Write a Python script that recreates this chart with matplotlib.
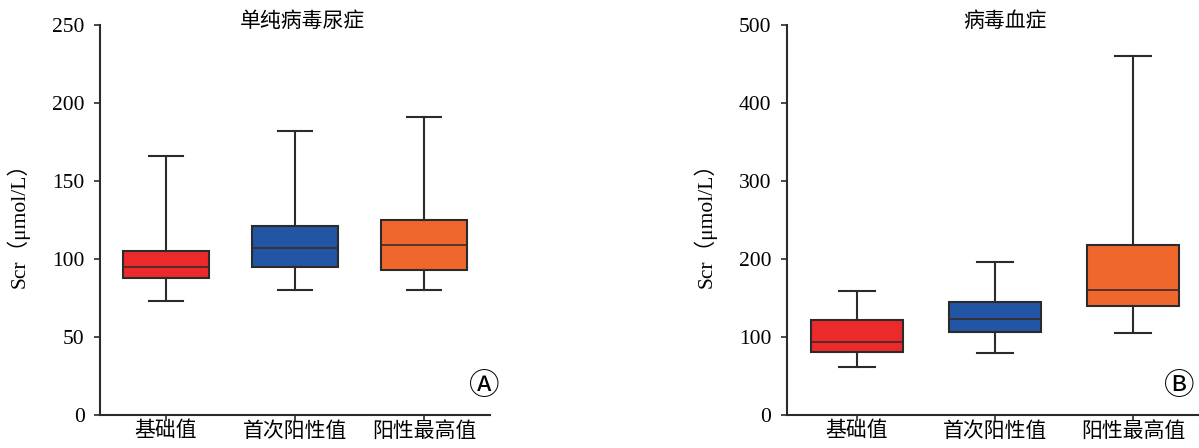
import matplotlib
matplotlib.use("Agg")
import matplotlib.pyplot as plt

plt.rcParams['font.family'] = ['Liberation Serif', 'Noto Sans CJK SC', 'DejaVu Sans']

groups = ["基础值", "首次阳性值", "阳性最高值"]
colors = ["#EC2A2B", "#2355A5", "#F0672D"]

# panel A: 单纯病毒尿症
a_low = [73, 80, 80]
a_q1 = [88, 95, 93]
a_med = [95, 107, 109]
a_q3 = [105, 121, 125]
a_high = [166, 182, 191]

# panel B: 病毒血症
b_low = [61, 79, 105]
b_q1 = [81, 106, 140]
b_med = [93, 123, 160]
b_q3 = [122, 145, 218]
b_high = [159, 196, 460]


def make_stats(low, q1, med, q3, high):
    return [dict(whislo=lo, q1=a, med=m, q3=b, whishi=hi, fliers=[])
            for lo, a, m, b, hi in zip(low, q1, med, q3, high)]


def draw_panel(ax, stats, ymax, step, title, tag, xmax, title_x, tag_x):
    bp = ax.bxp(stats, positions=[1, 2, 3], widths=0.67, patch_artist=True,
                showfliers=False, capwidths=0.26,
                boxprops=dict(edgecolor="#2b2b2b", linewidth=1.5),
                whiskerprops=dict(color="#2b2b2b", linewidth=1.5),
                capprops=dict(color="#2b2b2b", linewidth=1.5),
                medianprops=dict(color="#3a2a2a", linewidth=1.2))
    for patch, c in zip(bp['boxes'], colors):
        patch.set_facecolor(c)
    ax.set_xlim(0.49, xmax)
    ax.set_ylim(0, ymax)
    ax.set_yticks(range(0, ymax + 1, step))
    ax.set_xticks([1, 2, 3])
    ax.set_xticklabels(groups, fontsize=15)
    ax.tick_params(axis='y', labelsize=15.5, length=4, width=1.2, color="#2b2b2b", pad=7)
    ax.tick_params(axis='x', length=4, width=1.2, color="#2b2b2b", pad=1)
    for s in ['top', 'right']:
        ax.spines[s].set_visible(False)
    for s in ['left', 'bottom']:
        ax.spines[s].set_linewidth(1.5)
        ax.spines[s].set_color("#2b2b2b")
    ax.set_ylabel("Scr（μmol/L）", fontsize=15.5, labelpad=16)
    ax.text(title_x, 1.008, title, transform=ax.transAxes, ha='center', va='center', fontsize=15)
    ax.text(tag_x, 0.072, tag, transform=ax.transAxes, ha='center', va='center', fontsize=22,
            family=['Noto Sans CJK SC', 'DejaVu Sans'])


fig = plt.figure(figsize=(11.99, 4.48), dpi=100)
ax1 = fig.add_axes([0.0834, 0.0737, 0.3253, 0.870])
ax2 = fig.add_axes([0.656, 0.0737, 0.343, 0.870])

draw_panel(ax1, make_stats(a_low, a_q1, a_med, a_q3, a_high), 250, 50,
           "单纯病毒尿症", "Ⓐ", 3.51, 0.52, 0.985)
draw_panel(ax2, make_stats(b_low, b_q1, b_med, b_q3, b_high), 500, 100,
           "病毒血症", "Ⓑ", 3.47, 0.531, 0.955)

fig.savefig("out.png", dpi=100)
